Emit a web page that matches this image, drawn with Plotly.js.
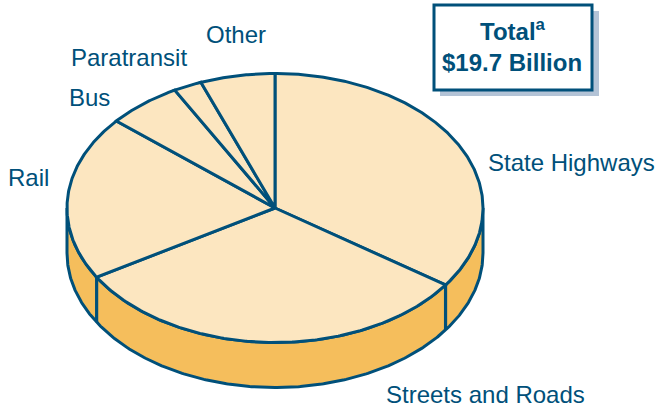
<!DOCTYPE html>
<html>
<head>
<meta charset="utf-8">
<script src="https://cdn.plot.ly/plotly-3.0.1.min.js"></script>
<style>html,body{margin:0;padding:0;background:#fff}#c{width:657px;height:407px}</style>
</head>
<body>
<div id="c"></div>
<script>
var categories = ["State Highways", "Streets and Roads", "Rail", "Bus", "Paratransit", "Other"];
var shares = [34.7, 31.7, 19.8, 5.8, 2.2, 5.8];
var totalLine1 = "Total<sup>a</sup>";
var totalLine2 = "$19.7 Billion";

var W = 657, H = 407;
var cx = 275, cy = 208, rx = 208, ry = 134.5, depthPx = 45;
var depth = depthPx / ry;
var INK = "#00507A", TOP = "#FCE6C0", SIDE = "#F5BE5C", SHADOW = "#B3C3D6";

function pt(deg, drop) {
  var a = deg * Math.PI / 180;
  return [Math.sin(a), Math.cos(a) - (drop || 0)];
}
function arc(from, to, drop) {
  var out = [], n = Math.max(2, Math.ceil(Math.abs(to - from) * 2));
  for (var i = 0; i <= n; i++) out.push(pt(from + (to - from) * i / n, drop));
  return out;
}
function xs(p) { return p.map(function (d) { return d[0]; }); }
function ys(p) { return p.map(function (d) { return d[1]; }); }

var total = shares.reduce(function (a, b) { return a + b; }, 0);
var edges = [0];
shares.forEach(function (s, i) { edges.push(edges[i] + s / total * 360); });

var traces = [];
var line = { color: INK, width: 3 };

// Rim: the front half of the disc, dropped by the thickness (closed outline)
var rim = arc(90, 270, 0).concat(arc(270, 90, depth)).concat([pt(90, 0)]);
traces.push({ x: xs(rim), y: ys(rim), mode: "lines", fill: "toself", fillcolor: SIDE, line: line, hoverinfo: "skip", showlegend: false });

// Rim separators at slice boundaries on the front half
edges.forEach(function (e) {
  if (e > 90 && e < 270) {
    var p = [pt(e, 0), pt(e, depth)];
    traces.push({ x: xs(p), y: ys(p), mode: "lines", line: { color: INK, width: 3.2 }, hoverinfo: "skip", showlegend: false });
  }
});

// Top face slices
categories.forEach(function (name, i) {
  var p = [[0, 0]].concat(arc(edges[i], edges[i + 1], 0)).concat([[0, 0]]);
  traces.push({ x: xs(p), y: ys(p), mode: "lines", fill: "toself", fillcolor: TOP, line: line, name: name, showlegend: false });
});

function X(px) { return px / W; }
function Y(px) { return 1 - px / H; }
function label(text, px, py, size, bold) {
  return {
    xref: "paper", yref: "paper", x: X(px), y: Y(py), xanchor: "center", yanchor: "middle",
    text: bold ? "<b>" + text + "</b>" : text, showarrow: false,
    font: { family: "Liberation Sans, Arial, sans-serif", size: size, color: INK }
  };
}
var labelPos = [[571, 163], [485, 394], [28, 178], [89, 97], [129, 58], [236, 34]];
var annotations = categories.map(function (c, i) { return label(c, labelPos[i][0], labelPos[i][1], 24); });
annotations.push(label(totalLine1, 513, 30, 24, true));
annotations.push(label(totalLine2, 512, 62, 24, true));

var shapes = [
  { type: "rect", xref: "paper", yref: "paper", x0: X(440), x1: X(599), y0: Y(11), y1: Y(96), fillcolor: SHADOW, line: { width: 0 }, layer: "below" },
  { type: "rect", xref: "paper", yref: "paper", x0: X(434), x1: X(592), y0: Y(5), y1: Y(90), fillcolor: "#FFFFFF", line: { color: INK, width: 3 }, layer: "below" }
];

var hiddenAxis = { visible: false, showgrid: false, zeroline: false, fixedrange: true };
var layout = {
  width: W, height: H, margin: { l: 0, r: 0, t: 0, b: 0 },
  paper_bgcolor: "#FFFFFF", plot_bgcolor: "rgba(0,0,0,0)", showlegend: false,
  xaxis: Object.assign({ range: [-cx / rx, (W - cx) / rx] }, hiddenAxis),
  yaxis: Object.assign({ range: [-(H - cy) / ry, cy / ry] }, hiddenAxis),
  annotations: annotations, shapes: shapes
};
Plotly.newPlot("c", traces, layout, { displayModeBar: false, staticPlot: true });
</script>
</body>
</html>
